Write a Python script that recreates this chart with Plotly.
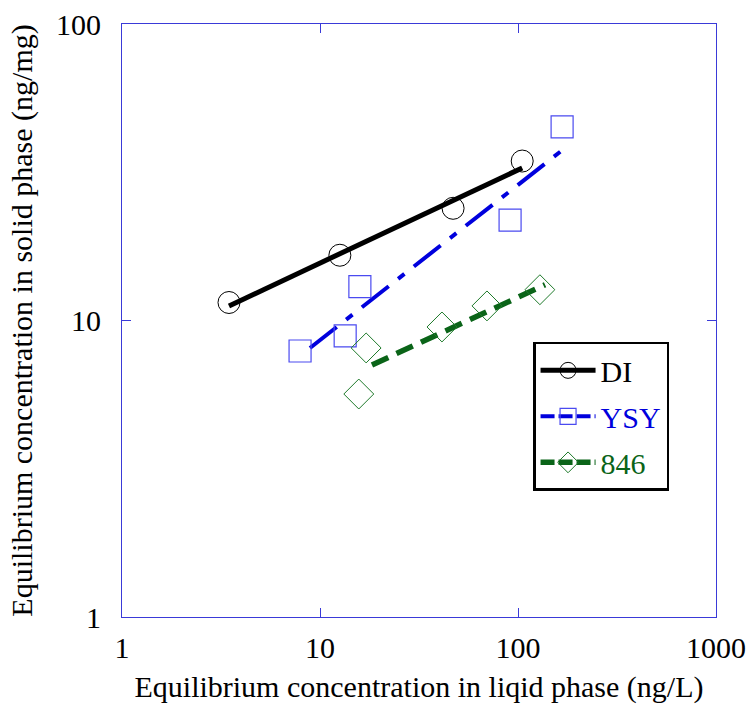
import plotly.graph_objects as go

# Data
di_x = [3.47, 12.6, 47.0, 105.0]
di_y = [11.5, 16.6, 23.9, 34.5]
di_fit_x = [3.47, 105.0]
di_fit_y = [11.2, 32.7]

ysy_x = [7.93, 13.4, 15.9, 91.2, 167.0]
ysy_y = [7.89, 8.87, 13.0, 21.8, 45.0]
ysy_fit_x = [8.9, 173.0]
ysy_fit_y = [8.08, 38.2]

s846_x = [17.1, 15.7, 41.3, 69.7, 129.0]
s846_y = [8.08, 5.65, 9.51, 11.2, 12.7]
s846_fit_x = [18.3, 137.0]
s846_fit_y = [7.08, 13.2]

x_ticks = [1, 10, 100, 1000]
y_ticks = [1, 10, 100]

BLACK = "#000000"
BLUE = "#0000dd"
BLUE_M = "#4a4af0"
GREEN = "#0a6418"
GREEN_M = "#1e7a2a"
AXIS = "#3a3ad8"
FONT = "Liberation Serif"
YSY_DASH = "34px,12px,8px,12px"
G_DASH = "18px,9px"

fig = go.Figure()

# fit lines
fig.add_trace(go.Scatter(x=di_fit_x, y=di_fit_y, mode="lines",
                         line=dict(color=BLACK, width=5), showlegend=False))
fig.add_trace(go.Scatter(x=ysy_fit_x, y=ysy_fit_y, mode="lines",
                         line=dict(color=BLUE, width=4, dash=YSY_DASH), showlegend=False))
fig.add_trace(go.Scatter(x=s846_fit_x, y=s846_fit_y, mode="lines",
                         line=dict(color=GREEN, width=5.5, dash=G_DASH), showlegend=False))

# markers
fig.add_trace(go.Scatter(x=di_x, y=di_y, mode="markers", showlegend=False,
                         marker=dict(symbol="circle-open", size=22, color=BLACK, line=dict(width=1))))
fig.add_trace(go.Scatter(x=ysy_x, y=ysy_y, mode="markers", showlegend=False,
                         marker=dict(symbol="square-open", size=22, color=BLUE_M, line=dict(width=1.2))))
fig.add_trace(go.Scatter(x=s846_x, y=s846_y, mode="markers", showlegend=False,
                         marker=dict(symbol="diamond-open", size=23, color=GREEN_M, line=dict(width=1))))

# legend entries
fig.add_trace(go.Scatter(x=[None], y=[None], mode="lines+markers", legendgroup="a",
                         name='<span style="color:#000000">DI</span>',
                         line=dict(color=BLACK, width=5),
                         marker=dict(symbol="circle-open", size=22, color=BLACK, line=dict(width=1))))
fig.add_trace(go.Scatter(x=[None], y=[None], mode="lines+markers", legendgroup="b",
                         name='<span style="color:#0000dd">YSY</span>',
                         line=dict(color=BLUE, width=4, dash="14px,4px"),
                         marker=dict(symbol="square-open", size=22, color=BLUE_M, line=dict(width=1.2))))
fig.add_trace(go.Scatter(x=[None], y=[None], mode="lines+markers", legendgroup="c",
                         name='<span style="color:#0a6418">846</span>',
                         line=dict(color=GREEN, width=5.5, dash="14px,4px"),
                         marker=dict(symbol="diamond-open", size=23, color=GREEN_M, line=dict(width=1))))

axis_common = dict(type="log", showgrid=False, zeroline=False, showline=True, mirror="ticks",
                   linecolor=AXIS, linewidth=1.2, ticks="inside", ticklen=9, tickcolor=AXIS,
                   tickwidth=1, automargin=False,
                   tickfont=dict(family=FONT, size=30, color="#000000"))

fig.update_layout(
    width=747, height=704,
    margin=dict(l=122, r=31, t=24, b=87, autoexpand=False),
    paper_bgcolor="white", plot_bgcolor="white",
    font=dict(family=FONT, size=30, color="#000000"),
    showlegend=True,
    legend=dict(x=0.692, y=0.464, xanchor="left", yanchor="top",
                bgcolor="white", bordercolor="#000000", borderwidth=2.5,
                font=dict(family=FONT, size=30), tracegroupgap=4,
                itemwidth=55),
    xaxis=dict(range=[0, 3], tickvals=x_ticks, ticktext=[str(v) for v in x_ticks],
               title=dict(text="Equilibrium concentration in liqid phase (ng/L)",
                          font=dict(family=FONT, size=30), standoff=12),
               **axis_common),
    yaxis=dict(range=[0, 2], tickvals=y_ticks, ticktext=[str(v) for v in y_ticks],
               title=dict(text="Equilibrium concentration in solid phase (ng/mg)",
                          font=dict(family=FONT, size=30), standoff=14),
               **axis_common),
)
fig.update_xaxes(ticklabelstandoff=4)
fig.update_yaxes(ticklabelstandoff=14)

fig.write_html("out.html")
